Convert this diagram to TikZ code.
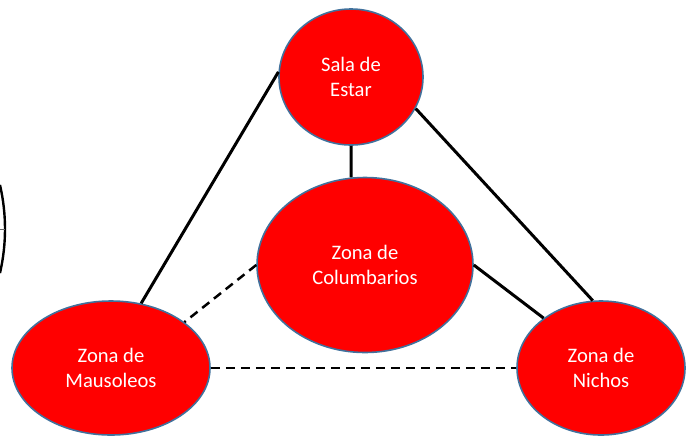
\documentclass[tikz,border=0pt]{standalone}
\usepackage{fontspec}
\setmainfont{Carlito}
\usepackage{tikz}
\usetikzlibrary{
  positioning,
  shapes.geometric
}
\definecolor{zonared}{HTML}{FF0000}
\definecolor{zonaborde}{HTML}{41719C}

\begin{document}
\begin{tikzpicture}[
      x=1pt, y=-1pt,
      zona/.style={ellipse, fill=zonared, draw=zonaborde, line width=1.6pt,
        inner sep=0pt, text=white, align=center,
        font=\fontsize{20.6}{25}\selectfont},
      enlace/.style={line width=3pt, black},
      enlacedash/.style={line width=2.5pt, black, dash pattern=on 9pt off 6pt}
  ]
      \useasboundingbox (0,0) rectangle (687,437);

      % Arco cortado en el borde izquierdo
      \draw[line width=2.4pt] ([shift={(-13:196)}]-191,229) arc[start angle=-13, end angle=13, radius=196];
      \draw[line width=0.6pt, black!60] (0,229) -- (5,229);

      % Zonas
      \node[zona, minimum width=144pt, minimum height=136pt] (sala) at (351,77) {Sala de\\Estar};
      \node[zona, minimum width=216pt, minimum height=175pt] (colum) at (365,265) {Zona de\\Columbarios};
      \node[zona, minimum width=198pt, minimum height=134pt] (maus) at (111,368) {Zona de\\Mausoleos};
      \node[zona, minimum width=168pt, minimum height=134pt] (nichos) at (601,368) {Zona de\\Nichos};

      % Enlaces continuos
      \draw[enlace] (sala.176) -- (maus.65);
      \draw[enlace] (sala.334) -- (nichos.97);
      \draw[enlace] (sala.south) -- (colum.99);
      \draw[enlace] (colum.east) -- (nichos.139);

      % Enlaces discontinuos
      \draw[enlacedash] (colum.west) -- (maus.32);
      \draw[enlacedash] (maus.east) -- (nichos.west);

  \end{tikzpicture}
\end{document}
